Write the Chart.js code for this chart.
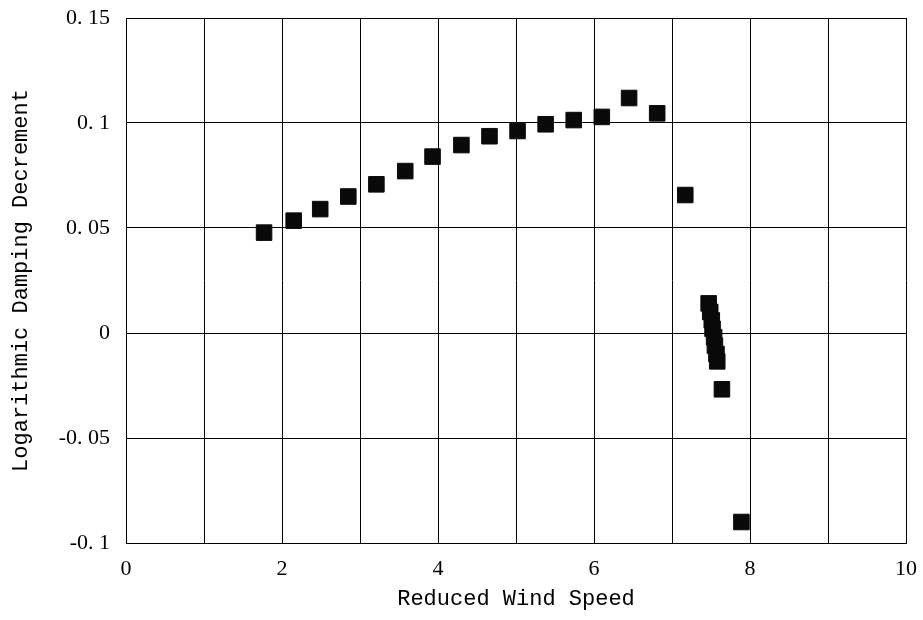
<!DOCTYPE html>
<html>
<head>
<meta charset="utf-8">
<script src="https://cdn.jsdelivr.net/npm/chart.js@4/dist/chart.umd.min.js"></script>
<style>
  html, body { margin: 0; padding: 0; background: #fff; }
  #wrap { width: 923px; height: 620px; }
</style>
</head>
<body>
<div id="wrap"><canvas id="c" width="923" height="620"></canvas></div>
<script>
const reducedWindSpeed = [1.77, 2.15, 2.49, 2.85, 3.21, 3.58, 3.93, 4.30, 4.66, 5.02, 5.38, 5.74, 6.10, 6.45, 6.81, 7.17, 7.47, 7.49, 7.51, 7.52, 7.54, 7.55, 7.57, 7.58, 7.64, 7.89];
const dampingDecrement = [0.0478, 0.0535, 0.059, 0.065, 0.0708, 0.0771, 0.084, 0.0895, 0.0937, 0.0962, 0.0994, 0.1014, 0.1029, 0.1119, 0.1046, 0.0657, 0.0141, 0.010, 0.006, 0.002, -0.002, -0.006, -0.010, -0.0135, -0.0268, -0.090];
const xTickValues = [0, 2, 4, 6, 8, 10];
const xTickLabels = ['0', '2', '4', '6', '8', '10'];
const yTickValues = [0.15, 0.1, 0.05, 0, -0.05, -0.1];
const yTickLabels = ['0. 15', '0. 1', '0. 05', '0', '-0. 05', '-0. 1'];
const xTitle = 'Reduced Wind Speed';
const yTitle = 'Logarithmic Damping Decrement';

const points = reducedWindSpeed.map((x, i) => ({ x: x, y: dampingDecrement[i] }));

const tickFont = { family: '"Liberation Serif", serif', size: 22, lineHeight: 1.2 };
const titleFont = { family: '"Liberation Mono", monospace', size: 22, lineHeight: 1.2 };

new Chart(document.getElementById('c'), {
  type: 'scatter',
  data: {
    datasets: [{
      data: points,
      pointStyle: 'rect',
      pointRadius: 11,
      pointHoverRadius: 11,
      backgroundColor: '#0a0a0a',
      borderColor: '#0a0a0a',
      borderWidth: 1
    }]
  },
  options: {
    responsive: false,
    animation: false,
    events: [],
    layout: { padding: { left: 0, right: 17, top: 18, bottom: 0 } },
    plugins: { legend: { display: false }, tooltip: { enabled: false } },
    scales: {
      x: {
        type: 'linear',
        min: 0, max: 10,
        afterFit: s => { s.height = 620 - 543; s.paddingLeft = 0; s.paddingRight = 0; },
        ticks: {
          stepSize: 1,
          autoSkip: false,
          maxRotation: 0,
          color: '#000',
          font: tickFont,
          padding: 13,
          callback: v => {
            const i = xTickValues.findIndex(t => Math.abs(t - v) < 1e-9);
            return i >= 0 ? xTickLabels[i] : '';
          }
        },
        grid: { color: '#000', lineWidth: 1, drawTicks: false },
        border: { color: '#000', width: 1 },
        title: {
          display: true, text: xTitle, color: '#000', font: titleFont,
          padding: { top: 0, bottom: 8 }
        }
      },
      y: {
        type: 'linear',
        min: -0.1, max: 0.15,
        afterFit: s => { s.width = 126; s.paddingTop = 0; s.paddingBottom = 0; },
        ticks: {
          stepSize: 0.05,
          autoSkip: false,
          color: '#000',
          font: tickFont,
          padding: 16,
          callback: v => {
            const i = yTickValues.findIndex(t => Math.abs(t - v) < 1e-9);
            return i >= 0 ? yTickLabels[i] : '';
          }
        },
        grid: { color: '#000', lineWidth: 1, drawTicks: false },
        border: { color: '#000', width: 1 },
        title: {
          display: true, text: yTitle, color: '#000', font: titleFont,
          padding: { top: 8, bottom: 0 }
        }
      }
    }
  }
});
</script>
</body>
</html>
